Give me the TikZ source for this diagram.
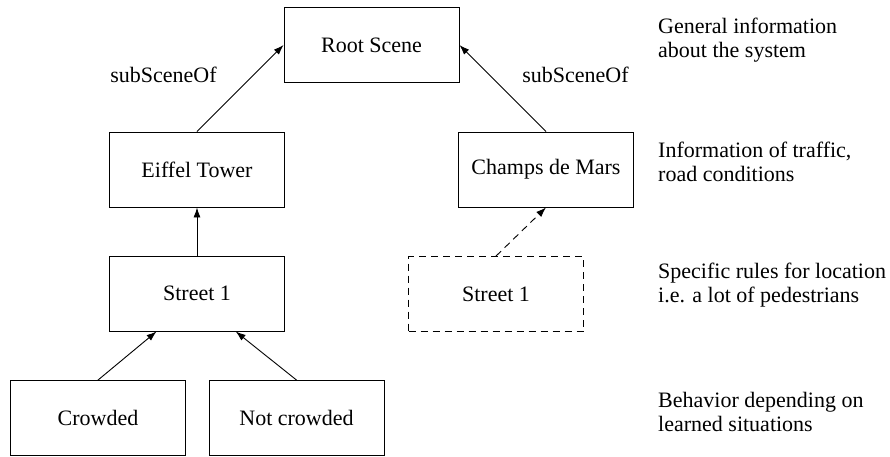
\documentclass[tikz,border=0pt]{standalone}
\usepackage{fontspec}
\setmainfont{Liberation Serif}
\usetikzlibrary{arrows.meta,calc}
\tikzset{
  scenebox/.style={draw, line width=0.9pt, minimum width=175pt, minimum height=75pt, inner sep=0pt, font=\fontsize{22pt}{24.5pt}\selectfont},
  dashbox/.style={scenebox, dash pattern=on 7pt off 5pt},
  link/.style={line width=0.9pt, -{Latex[length=10pt,width=7pt]}},
  dashlink/.style={link, dash pattern=on 7pt off 5pt},
  lbl/.style={inner sep=0pt, font=\fontsize{22pt}{24.5pt}\selectfont},
  note/.style={inner sep=0pt, anchor=base west, font=\fontsize{22pt}{24.5pt}\selectfont}
}
\begin{document}
\begin{tikzpicture}[x=1pt,y=-1pt]
\useasboundingbox (0,0) rectangle (890,456);
\node[scenebox] (root) at (371.5,45) {Root Scene};
\node[scenebox] (eiffel) at (197,169.5) {Eiffel Tower};
\node[scenebox] (champs) at (546,169.5) {Champs de Mars};
\node[scenebox] (street) at (197,293.5) {Street 1};
\node[dashbox] (street2) at (496,294) {Street 1};
\node[scenebox] (crowded) at (98,418) {Crowded};
\node[scenebox] (notcrowded) at (296.5,418) {Not crowded};

\draw[link] (eiffel.north) -- (root.west);
\draw[link] (champs.north) -- (root.east);
\draw[link] (street.north) -- (eiffel.south);
\draw[dashlink] (street2.north) -- (champs.south);
\draw[link] (crowded.north) -- ($(street.south west)!0.27!(street.south east)$);
\draw[link] (notcrowded.north) -- ($(street.south west)!0.72!(street.south east)$);

\node[lbl, anchor=base] (l1) at (163.5,82) {subSceneOf};
\node[lbl, anchor=base] (l2) at (575.5,82) {subSceneOf};

\node[note] (n1) at (658,33) {\begin{tabular}[t]{@{}l@{}}General information\\about the system\end{tabular}};
\node[note] (n2) at (658,157) {\begin{tabular}[t]{@{}l@{}}Information of traffic,\\road conditions\end{tabular}};
\node[note] (n3) at (658,278) {\begin{tabular}[t]{@{}l@{}}Specific rules for location\\i.e. a lot of pedestrians\end{tabular}};
\node[note] (n4) at (658,407) {\begin{tabular}[t]{@{}l@{}}Behavior depending on\\learned situations\end{tabular}};
\end{tikzpicture}
\end{document}
